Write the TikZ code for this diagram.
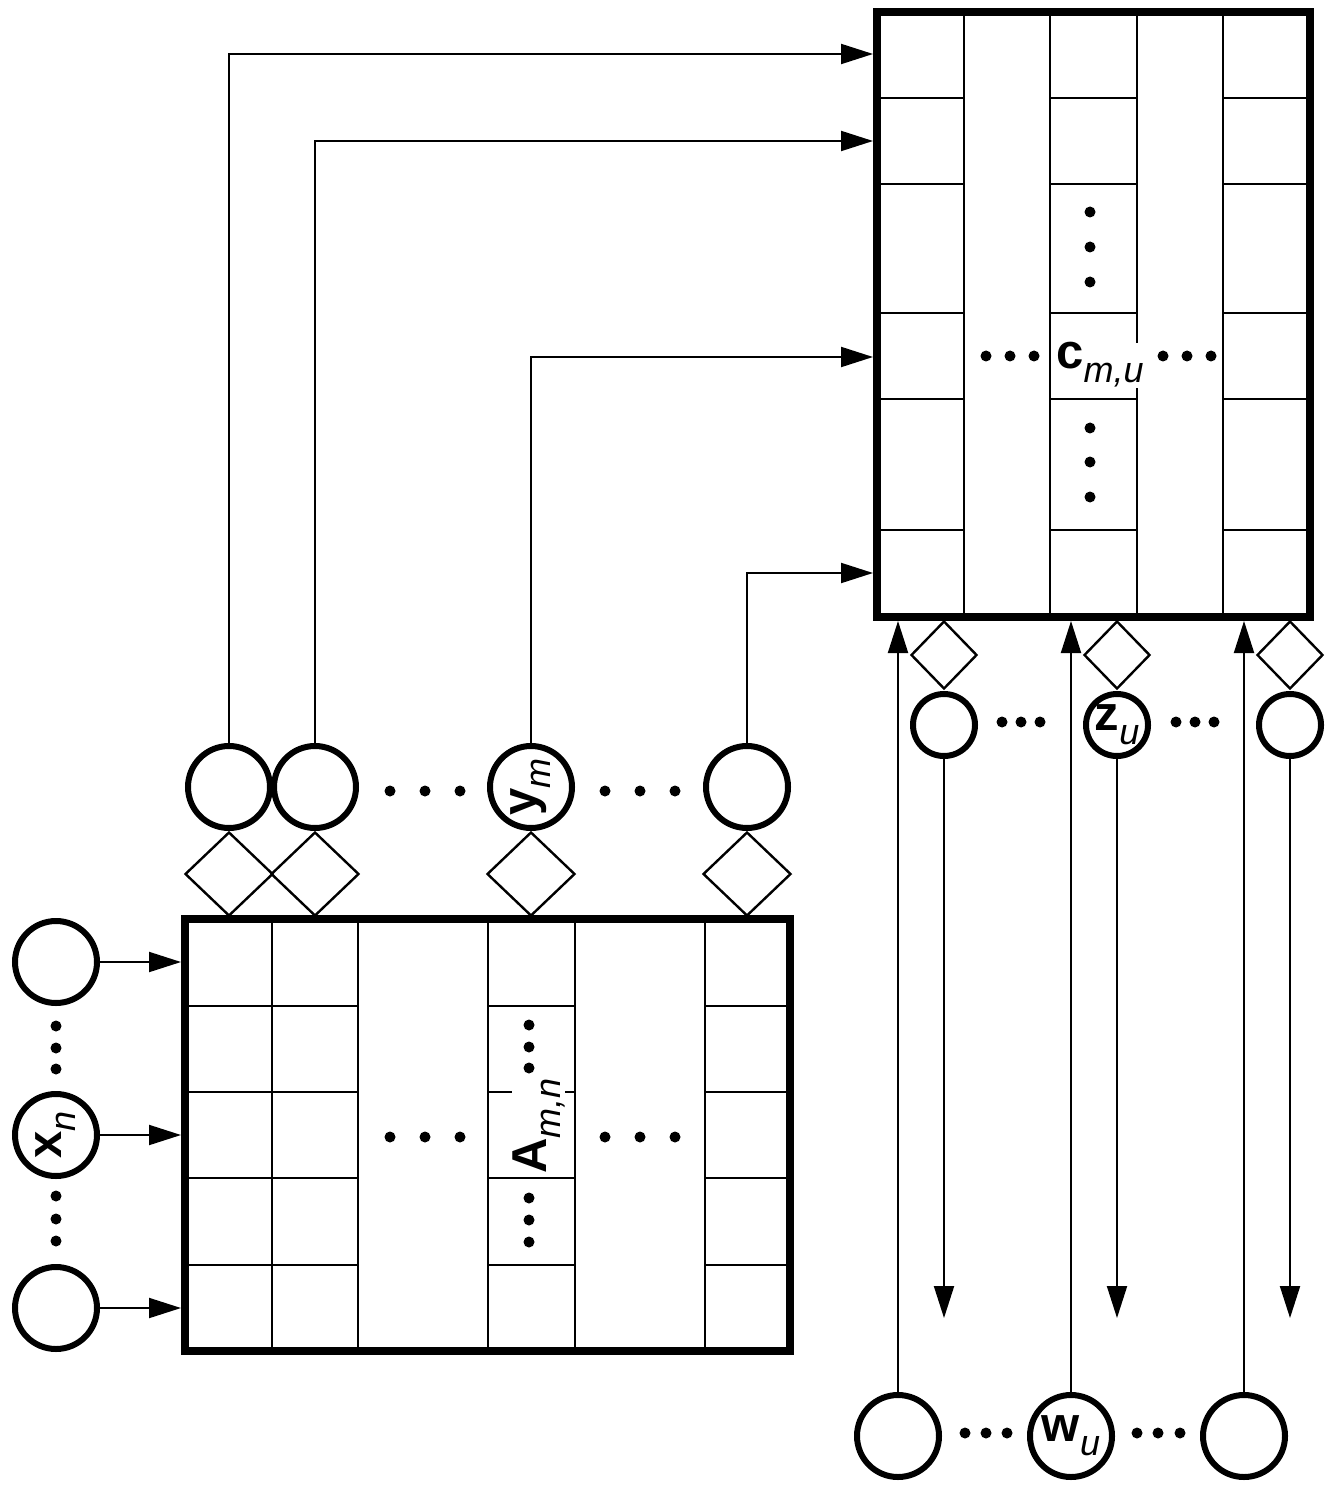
\documentclass[tikz,border=0pt]{standalone}
\usepackage{fontspec}
\setmainfont{Liberation Sans}
\usetikzlibrary{arrows.meta,shapes.geometric}
% bold variable letter with an italic, lowered subscript
\newcommand{\varlab}[2]{{\fontsize{24.5pt}{28pt}\selectfont\bfseries #1}\raisebox{-7pt}{\fontsize{18pt}{21pt}\selectfont\itshape #2}}
\begin{document}
\begin{tikzpicture}[x=0.5pt,y=-0.5pt,
  grid/.style={line width=1pt},
  matbox/.style={draw, line width=4pt, inner sep=0pt, outer sep=0pt},
  bigvar/.style={circle, draw, line width=3pt, minimum size=41pt, inner sep=0pt},
  smallvar/.style={circle, draw, line width=3pt, minimum size=31pt, inner sep=0pt},
  gate/.style={diamond, draw, line width=1.2pt, inner sep=0pt, minimum width=44pt, minimum height=42pt},
  smallgate/.style={gate, minimum width=33pt, minimum height=34pt},
  arr/.style={line width=1pt, -{Triangle[length=16pt,width=10pt]}},
  edgearr/.style={arr, shorten >=2pt},
  label/.style={inner sep=0pt, fill=white}
]
\useasboundingbox (0,0) rectangle (1332,1486);

% ---- grid of matrix A ----
\foreach \gx in {272,358,488,575,705} \draw[grid] (\gx,919) -- (\gx,1351);
\foreach \gy in {1006,1092,1178,1265} {
  \draw[grid] (185,\gy) -- (358,\gy);
  \draw[grid] (488,\gy) -- (575,\gy);
  \draw[grid] (705,\gy) -- (790,\gy);
}
% ---- grid of matrix C ----
\foreach \gx in {964,1050,1137,1223} \draw[grid] (\gx,12) -- (\gx,617);
\foreach \gy in {98,184,313,399,530} {
  \draw[grid] (877,\gy) -- (964,\gy);
  \draw[grid] (1050,\gy) -- (1137,\gy);
  \draw[grid] (1223,\gy) -- (1310,\gy);
}

% ---- matrix frames ----
\node[matbox, minimum width=302.5pt, minimum height=216pt] (A) at (487.5,1135) {};
\node[matbox, minimum width=216.5pt, minimum height=302.5pt] (C) at (1093.5,314.5) {};

% ---- ellipsis dots ----
\foreach \p in {(390,791),(425,791),(460,791),(605,791),(640,791),(675,791),
                (390,1137),(425,1137),(460,1137),(605,1137),(640,1137),(675,1137),
                (529,1025),(529,1047),(529,1068),(529,1198),(529,1220),(529,1242),
                (56,1026),(56,1048),(56,1069),(56,1196),(56,1219),(56,1241),
                (1090,212),(1090,247),(1090,282),(1090,428),(1090,462),(1090,497),
                (986,356),(1010,356),(1034,356),(1163,356),(1187,356),(1211,356),
                (1002,722),(1021,722),(1040,722),(1176,722),(1195,722),(1214,722),
                (965,1433),(986,1433),(1007,1433),(1137,1433),(1158,1433),(1180,1433)}
  \fill \p circle (2.75pt);

% ---- matrix labels ----
\node[label, rotate=90, anchor=base west] (Alab) at (546,1174) {\varlab{A}{m,n}};
\node[label, anchor=base west] (Clab) at (1056,369) {\varlab{c}{m,u}};

% ---- variable nodes ----
\node[bigvar] (x1) at (56,962) {};
\node[bigvar] (x2) at (56,1135) {\rotatebox{90}{\varlab{x}{n}}};
\node[bigvar] (x3) at (56,1308) {};

\node[bigvar] (y1) at (229,787) {};
\node[bigvar] (y2) at (315,787) {};
\node[bigvar] (y3) at (531,787) {\rotatebox{90}{\varlab{y}{m}}};
\node[bigvar] (y4) at (747,787) {};

\node[smallvar] (z1) at (944,725) {};
\node[smallvar] (z2) at (1117,725) {\varlab{z}{u}};
\node[smallvar] (z3) at (1290,725) {};

\node[bigvar] (w1) at (898,1436) {};
\node[bigvar] (w2) at (1071,1436) {\varlab{w}{u}};
\node[bigvar] (w3) at (1244,1436) {};

% ---- gates ----
\node[gate] (gy1) at (229,874) {};
\node[gate] (gy2) at (315,874) {};
\node[gate] (gy3) at (531,874) {};
\node[gate] (gy4) at (747,874) {};
\node[smallgate] (gz1) at (944,655) {};
\node[smallgate] (gz2) at (1117,655) {};
\node[smallgate] (gz3) at (1290,655) {};

% ---- row levels of C and free ends ----
\coordinate (r1) at (0,54);
\coordinate (r2) at (0,141);
\coordinate (r3) at (0,357);
\coordinate (r4) at (0,573);
\coordinate (zend1) at (944,1318);
\coordinate (zend2) at (1117,1318);
\coordinate (zend3) at (1290,1318);

% ---- connectors ----
\foreach \i in {1,2,3} \draw[edgearr] (x\i.east) -- (x\i.east -| A.west);
\draw[edgearr] (y1.north) |- (C.west |- r1);
\draw[edgearr] (y2.north) |- (C.west |- r2);
\draw[edgearr] (y3.north) |- (C.west |- r3);
\draw[edgearr] (y4.north) |- (C.west |- r4);
\foreach \i in {1,2,3} {
  \draw[edgearr] (w\i.north) -- (w\i.north |- C.south);
  \draw[arr] (z\i.south) -- (zend\i);
}
\end{tikzpicture}
\end{document}
